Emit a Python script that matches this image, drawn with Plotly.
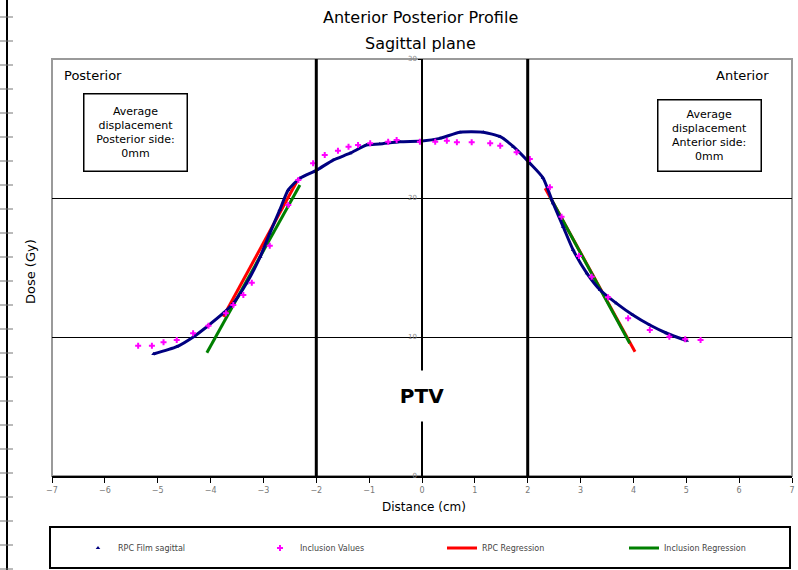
"""Anterior/posterior dose profile, sagittal plane."""

import plotly.graph_objects as go

# RPC film profile (cm, Gy)
film_x = [-5.08, -4.64, -4.32, -4.07, -3.76, -3.57, -3.32, -3.06, -2.88, -2.69,
          -2.53, -2.31, -1.99, -1.68, -1.36, -1.05, -0.80, -0.42, 0.00, 0.34,
          0.72, 1.16, 1.48, 1.73, 2.04, 2.29, 2.48, 2.67, 2.86, 3.12,
          3.37, 3.68, 3.99, 4.31, 4.63, 5.01]
film_y = [8.78, 9.30, 10.02, 10.74, 11.71, 12.42, 13.86, 15.78, 17.46, 19.14,
          20.58, 21.42, 22.01, 22.73, 23.22, 23.81, 23.88, 24.05, 24.10, 24.29,
          24.73, 24.73, 24.41, 23.69, 22.50, 21.44, 19.62, 17.94, 16.26, 14.58,
          13.38, 12.42, 11.58, 10.86, 10.27, 9.73]

# inclusion measurement points
incl_x = [-5.37, -5.11, -4.89, -4.64, -4.33, -4.04, -3.71, -3.57, -3.38, -3.22,
          -2.88, -2.53, -2.34, -2.06, -1.84, -1.59, -1.39, -1.21, -0.98, -0.64,
          -0.48, -0.04, 0.25, 0.47, 0.66, 0.94, 1.29, 1.48, 1.79, 2.04,
          2.42, 2.64, 2.97, 3.21, 3.52, 3.90, 4.31, 4.68, 4.98, 5.27]
incl_y = [9.37, 9.37, 9.62, 9.78, 10.27, 10.81, 11.71, 12.30, 13.02, 13.91,
          16.57, 19.50, 21.29, 22.50, 23.09, 23.40, 23.69, 23.81, 23.94, 24.05,
          24.17, 24.05, 24.05, 24.12, 24.01, 24.01, 23.94, 23.76, 23.29, 22.81,
          20.77, 18.65, 15.83, 14.34, 12.86, 11.35, 10.50, 10.02, 9.83, 9.78]

# regression segments (posterior side, anterior side)
rpc_reg_x = [-3.76, -2.37, None, 2.33, 4.03]
rpc_reg_y = [11.46, 21.17, None, 20.70, 8.94]
incl_reg_x = [-4.07, -2.31, None, 2.42, 3.93]
incl_reg_y = [8.87, 20.94, None, 20.09, 9.55]

ptv_edges = [-2, 2]
x_ticks = list(range(-7, 8))
y_ticks = [0, 10, 20, 30]

FONT = "DejaVu Sans"

# plot area in pixels: x 52..792, y 59..476
L, R, T, B = 52, 792, 59, 476


def px(x):
    return (x - L) / (R - L)


def py(y):
    return (B - y) / (B - T)


fig = go.Figure()

fig.add_trace(go.Scatter(
    x=rpc_reg_x, y=rpc_reg_y, mode="lines", name="RPC Regression",
    line=dict(color="#ff0000", width=3), legendrank=3,
))
fig.add_trace(go.Scatter(
    x=incl_reg_x, y=incl_reg_y, mode="lines", name="Inclusion Regression",
    line=dict(color="#008000", width=3), legendrank=4,
))
fig.add_trace(go.Scatter(
    x=film_x, y=film_y, mode="lines", showlegend=False,
    line=dict(color="#000080", width=3, shape="spline", smoothing=0.6),
))
fig.add_trace(go.Scatter(
    x=film_x, y=film_y, mode="markers", name="RPC Film sagittal",
    marker=dict(color="#000080", size=4, symbol="triangle-up"), legendrank=1,
))
fig.add_trace(go.Scatter(
    x=incl_x, y=incl_y, mode="markers", name="Inclusion Values",
    marker=dict(color="#ff00ff", size=5, symbol="cross"), legendrank=2,
))

shapes = []
# plot frame
shapes.append(dict(type="rect", xref="paper", yref="paper", x0=0, x1=1, y0=0, y1=1,
                   line=dict(color="#9a9a9a", width=2), layer="below"))
# PTV borders
for e in ptv_edges:
    shapes.append(dict(type="line", xref="x", yref="paper", x0=e, x1=e, y0=0, y1=1,
                       line=dict(color="black", width=3)))
# legend frame
shapes.append(dict(type="rect", xref="paper", yref="paper",
                   x0=px(50), x1=px(790), y0=py(527), y1=py(568),
                   line=dict(color="black", width=2)))
# ruler at the left edge of the picture
shapes.append(dict(type="line", xref="paper", yref="paper",
                   x0=px(7), x1=px(7), y0=py(575), y1=py(-5),
                   line=dict(color="black", width=2)))
for yy in range(17, 570, 24):
    shapes.append(dict(type="line", xref="paper", yref="paper",
                       x0=px(0), x1=px(13), y0=py(yy), y1=py(yy),
                       line=dict(color="#777777", width=1)))


def note(text, x, y, size, xanchor="center", **kw):
    return dict(text=text, x=px(x), y=py(y), xref="paper", yref="paper",
                xanchor=xanchor, yanchor="middle", showarrow=False,
                font=dict(family=FONT, size=size, color="black"), **kw)


box_text = "Average<br>displacement<br>{} side:<br>0mm"
box_style = dict(width=100, bgcolor="white", bordercolor="black", borderwidth=1.5)
annotations = [
    note("Anterior Posterior Profile", 420, 18, 16),
    note("Sagittal plane", 420, 43, 16),
    note("Posterior", 62, 75, 13, xanchor="left"),
    note("Anterior", 771, 75, 13, xanchor="right"),
    note(box_text.format("Posterior"), 135, 132, 11, height=74, **box_style),
    note(box_text.format("Anterior"), 709, 135, 11, height=68, **box_style),
    note("<b>PTV</b>", 422, 396, 20, width=52, height=48, bgcolor="white"),
    note("Dose (Gy)", 30, 272, 13, textangle=-90),
    note("Distance (cm)", 424, 507, 12),
]

fig.update_layout(
    width=798,
    height=570,
    margin=dict(l=L, r=798 - R, t=T, b=570 - B, autoexpand=False),
    paper_bgcolor="white",
    plot_bgcolor="white",
    font=dict(family=FONT),
    shapes=shapes,
    annotations=annotations,
    showlegend=True,
    legend=dict(
        orientation="h", x=px(78), y=py(548), xanchor="left", yanchor="middle",
        entrywidth=137, entrywidthmode="pixels",
        font=dict(family=FONT, size=8, color="#444444"),
        bgcolor="rgba(0,0,0,0)",
    ),
    xaxis=dict(
        range=[-7, 7], tickvals=x_ticks, showgrid=False, zeroline=False,
        showline=True, linecolor="black", linewidth=2,
        ticks="outside", ticklen=5, tickcolor="black",
        tickfont=dict(family=FONT, size=8, color="#777777"),
    ),
    yaxis=dict(
        range=[0, 30], tickvals=y_ticks, anchor="free", position=0.5,
        showgrid=True, gridcolor="black", gridwidth=1, zeroline=False,
        showline=True, linecolor="black", linewidth=1.5,
        ticks="outside", ticklen=3, tickcolor="black",
        tickfont=dict(family=FONT, size=7, color="#888888"),
    ),
)

# the page body keeps an 8px margin by default; drop it so the chart sits at 0,0
fig.write_html("out.html", config={"displayModeBar": False},
               post_script="document.body.style.margin = '0px';")
